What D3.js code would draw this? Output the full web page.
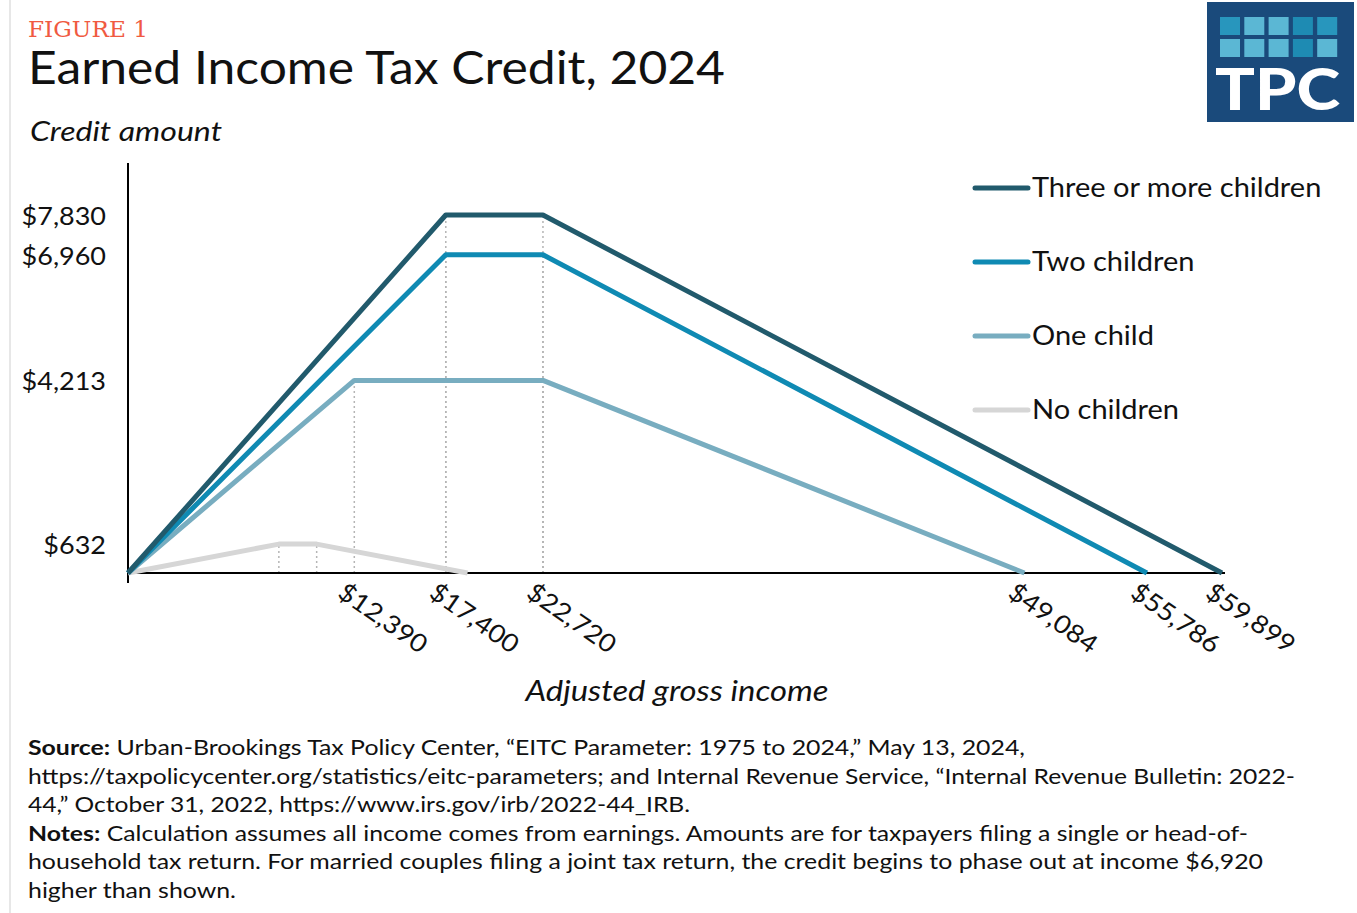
<!DOCTYPE html>
<html>
<head>
<meta charset="utf-8">
<script src="https://cdn.jsdelivr.net/npm/d3@7"></script>
<style>
  body { margin: 0; background: #fff; }
  svg { display: block; font-family: Lato, "Open Sans", sans-serif; }
</style>
</head>
<body>
<svg width="1357" height="913"></svg>
<script>
// data: EITC parameters 2024 per family type
var series = ["Three or more children", "Two children", "One child", "No children"];
var phaseInEnd = [17400, 17400, 12390, 8260];
var phaseOutStart = [22720, 22720, 22720, 10330];
var phaseOutEnd = [59899, 55786, 49084, 18591];
var maxCredit = [7830, 6960, 4213, 632];
var colors = ["#215a6c", "#0f8ab3", "#78adc0", "#d6d6d6"];

var yTicks = [632, 4213, 6960, 7830];
var xTicks = [12390, 17400, 22720, 49084, 55786, 59899];

var notes = [
    [["Source:", true], [" Urban-Brookings Tax Policy Center, \u201CEITC Parameter: 1975 to 2024,\u201D May 13, 2024,", false]],
    [["https://taxpolicycenter.org/statistics/eitc-parameters; and Internal Revenue Service, \u201CInternal Revenue Bulletin: 2022-", false]],
    [["44,\u201D October 31, 2022, https://www.irs.gov/irb/2022-44_IRB.", false]],
    [["Notes:", true], [" Calculation assumes all income comes from earnings. Amounts are for taxpayers filing a single or head-of-", false]],
    [["household tax return. For married couples filing a joint tax return, the credit begins to phase out at income $6,920", false]],
    [["higher than shown.", false]]
];
var noteWidths = [997, 1267, 662, 1220, 1235, 208];

var svg = d3.select("svg");

// Lato is narrower than the original font, so texts get stretched a bit
function stretch(sel, k) {
    sel.each(function () {
        var w = this.getComputedTextLength();
        d3.select(this)
            .attr("textLength", w * k)
            .attr("lengthAdjust", "spacingAndGlyphs");
    });
}

// plot area
var x = d3.scaleLinear().domain([0, 59899]).range([128, 1222]);
var y = d3.scaleLinear().domain([0, 7830]).range([573, 215]);

// thin border on the left
svg.append("line")
    .attr("x1", 10).attr("x2", 10).attr("y1", 0).attr("y2", 913)
    .attr("stroke", "#cfcfcf").attr("stroke-width", 1);

// titles
svg.append("text")
    .attr("x", 28).attr("y", 37)
    .attr("font-family", "'DejaVu Serif', serif")
    .attr("font-size", 23)
    .attr("fill", "#f05a41")
    .attr("textLength", 120).attr("lengthAdjust", "spacingAndGlyphs")
    .text("FIGURE 1");

svg.append("text")
    .attr("x", 28).attr("y", 84)
    .attr("font-size", 46)
    .attr("fill", "#111")
    .attr("textLength", 697).attr("lengthAdjust", "spacingAndGlyphs")
    .text("Earned Income Tax Credit, 2024");

svg.append("text")
    .attr("x", 30).attr("y", 141)
    .attr("font-size", 27)
    .attr("font-style", "italic")
    .attr("fill", "#111")
    .attr("textLength", 192).attr("lengthAdjust", "spacingAndGlyphs")
    .text("Credit amount");

// logo
var logo = svg.append("g").attr("transform", "translate(1207,2)");
logo.append("rect").attr("width", 147).attr("height", 120).attr("fill", "#1a4a7b");
var logoCells = ["#2896bd", "#5bb7d4", "#5bb7d4", "#1e8bb3", "#2896bd",
                 "#5bb7d4", "#5bb7d4", "#5bb7d4", "#1e8bb3", "#5bb7d4"];
logo.selectAll(".cell")
    .data(logoCells)
    .enter().append("rect")
    .attr("class", "cell")
    .attr("x", function (d, i) { return 13 + (i % 5) * 24.3; })
    .attr("y", function (d, i) { return 15 + Math.floor(i / 5) * 22; })
    .attr("width", 20).attr("height", 18)
    .attr("fill", function (d) { return d; });
logo.append("text")
    .attr("x", 8).attr("y", 108)
    .attr("font-size", 58).attr("font-weight", 900)
    .attr("fill", "#fff")
    .attr("textLength", 125).attr("lengthAdjust", "spacingAndGlyphs")
    .text("TPC");

// dotted guide lines at the kinks
var guides = [];
series.forEach(function (s, i) {
    guides.push({ v: phaseInEnd[i], m: maxCredit[i] });
    guides.push({ v: phaseOutStart[i], m: maxCredit[i] });
});
svg.selectAll(".guide")
    .data(guides)
    .enter().append("line")
    .attr("class", "guide")
    .attr("x1", function (d) { return x(d.v); })
    .attr("x2", function (d) { return x(d.v); })
    .attr("y1", y(0))
    .attr("y2", function (d) { return y(d.m); })
    .attr("stroke", "#b5b5b5")
    .attr("stroke-width", 1.5)
    .attr("stroke-dasharray", "2,3");

// axes
svg.append("line")
    .attr("x1", 128).attr("x2", x(59899) + 3)
    .attr("y1", y(0)).attr("y2", y(0))
    .attr("stroke", "#000").attr("stroke-width", 2);
svg.append("line")
    .attr("x1", 128).attr("x2", 128)
    .attr("y1", 163).attr("y2", 583)
    .attr("stroke", "#000").attr("stroke-width", 2);

var yAxis = svg.append("g")
    .attr("transform", "translate(128,0)")
    .call(d3.axisLeft(y).tickValues(yTicks).tickSize(0).tickPadding(22)
        .tickFormat(function (d) { return "$" + d3.format(",")(d); }));
yAxis.select(".domain").remove();
yAxis.selectAll("text")
    .attr("font-family", "Lato, sans-serif")
    .attr("font-size", 25)
    .attr("fill", "#111")
    .attr("dy", "0.38em");
stretch(yAxis.selectAll("text"), 1.08);

var xLabels = svg.selectAll(".xlab")
    .data(xTicks)
    .enter().append("text")
    .attr("class", "xlab")
    .attr("transform", function (d) {
        return "translate(" + (x(d) - 18) + ",596) rotate(35)";
    })
    .attr("font-size", 25)
    .attr("fill", "#111")
    .text(function (d) { return "$" + d3.format(",")(d); });
stretch(xLabels, 1.1);

svg.append("text")
    .attr("x", 677).attr("y", 701)
    .attr("text-anchor", "middle")
    .attr("font-size", 29)
    .attr("font-style", "italic")
    .attr("fill", "#111")
    .attr("textLength", 303).attr("lengthAdjust", "spacingAndGlyphs")
    .text("Adjusted gross income");

// the four credit schedules
var line = d3.line()
    .x(function (d) { return x(d[0]); })
    .y(function (d) { return y(d[1]); });

var order = [3, 2, 1, 0];
svg.selectAll(".credit")
    .data(order)
    .enter().append("path")
    .attr("class", "credit")
    .attr("d", function (i) {
        return line([[0, 0], [phaseInEnd[i], maxCredit[i]], [phaseOutStart[i], maxCredit[i]], [phaseOutEnd[i], 0]]);
    })
    .attr("fill", "none")
    .attr("stroke", function (i) { return colors[i]; })
    .attr("stroke-width", 5)
    .attr("stroke-linejoin", "round");

// legend
var legend = svg.selectAll(".legend")
    .data(series)
    .enter().append("g")
    .attr("class", "legend")
    .attr("transform", function (d, i) { return "translate(975," + (188 + i * 74) + ")"; });
legend.append("line")
    .attr("x1", 0).attr("x2", 53)
    .attr("stroke", function (d, i) { return colors[i]; })
    .attr("stroke-width", 5)
    .attr("stroke-linecap", "round");
var legendText = legend.append("text")
    .attr("x", 57).attr("y", 9)
    .attr("font-size", 26)
    .attr("fill", "#111")
    .text(function (d) { return d; });
stretch(legendText, 1.115);

// source and notes
var noteText = svg.selectAll(".note")
    .data(notes)
    .enter().append("text")
    .attr("class", "note")
    .attr("x", 28)
    .attr("y", function (d, i) { return 755 + i * 28.6; })
    .attr("font-size", 21)
    .attr("fill", "#111")
    .attr("textLength", function (d, i) { return noteWidths[i]; })
    .attr("lengthAdjust", "spacingAndGlyphs");
noteText.selectAll("tspan")
    .data(function (d) { return d; })
    .enter().append("tspan")
    .attr("font-weight", function (d) { return d[1] ? 700 : 400; })
    .text(function (d) { return d[0]; });
</script>
</body>
</html>
